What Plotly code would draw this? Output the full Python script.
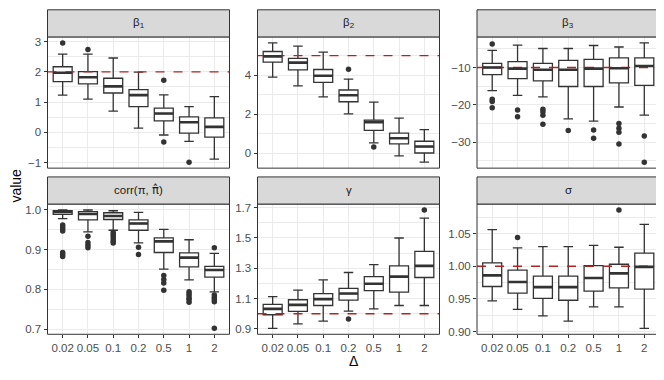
import plotly.graph_objects as go

# x categories (Delta)
deltas = ["0.02", "0.05", "0.1", "0.2", "0.5", "1", "2"]

# beta_1
b1_low = [1.23, 1.10, 0.70, 0.14, -0.09, -0.30, -0.89]
b1_q1 = [1.68, 1.60, 1.30, 0.85, 0.38, -0.03, -0.16]
b1_med = [1.97, 1.82, 1.52, 1.23, 0.62, 0.33, 0.18]
b1_q3 = [2.17, 2.01, 1.79, 1.41, 0.80, 0.51, 0.48]
b1_up = [2.59, 2.59, 2.46, 1.99, 1.24, 0.85, 1.18]
b1_out_x = ["0.02", "0.05", "0.5", "0.5", "1"]
b1_out_y = [2.96, 2.74, 1.72, -0.32, -0.99]

# beta_2
b2_low = [3.90, 3.45, 2.89, 2.02, 0.54, -0.13, -0.45]
b2_q1 = [4.67, 4.27, 3.63, 2.64, 1.18, 0.49, 0.02]
b2_med = [4.96, 4.64, 3.97, 2.97, 1.60, 0.77, 0.35]
b2_q3 = [5.21, 4.86, 4.29, 3.24, 1.70, 1.04, 0.62]
b2_up = [5.65, 5.48, 5.18, 3.80, 2.62, 1.80, 1.21]
b2_out_x = ["0.2", "0.5"]
b2_out_y = [4.30, 0.32]

# beta_3
b3_low = [-16.2, -17.5, -17.9, -23.8, -24.4, -20.6, -22.8]
b3_q1 = [-11.9, -13.0, -13.6, -15.1, -15.1, -14.1, -14.8]
b3_med = [-10.0, -10.3, -10.6, -10.6, -10.3, -10.2, -9.6]
b3_q3 = [-8.9, -8.4, -8.9, -8.1, -7.8, -7.4, -7.4]
b3_up = [-5.4, -4.0, -4.9, -4.9, -4.1, -4.5, -3.4]
b3_out_x = ["0.02", "0.02", "0.02", "0.02", "0.05", "0.05",
            "0.1", "0.1", "0.1", "0.1", "0.2", "0.5", "0.5",
            "1", "1", "1", "1", "2", "2"]
b3_out_y = [-3.7, -18.5, -19.1, -20.8, -21.4, -23.2,
            -21.2, -21.9, -22.8, -25.2, -26.9, -26.8, -29.0,
            -25.0, -26.3, -27.4, -30.5, -28.4, -35.4]

# corr(pi, pi-hat)
cr_low = [0.978, 0.945, 0.949, 0.917, 0.851, 0.824, 0.794]
cr_q1 = [0.989, 0.975, 0.976, 0.949, 0.893, 0.857, 0.831]
cr_med = [0.995, 0.990, 0.985, 0.966, 0.921, 0.880, 0.849]
cr_q3 = [0.998, 0.996, 0.993, 0.975, 0.930, 0.892, 0.858]
cr_up = [1.000, 1.000, 0.998, 0.994, 0.951, 0.925, 0.891]
cr_out_x = ["0.02"] * 7 + ["0.05"] * 4 + ["0.1"] * 6 + ["0.2"] * 2 + \
           ["0.5"] * 4 + ["1"] * 6 + ["2"] * 6
cr_out_y = [0.962, 0.957, 0.952, 0.947, 0.893, 0.888, 0.883,
            0.934, 0.918, 0.911, 0.905,
            0.943, 0.938, 0.933, 0.927, 0.921, 0.917,
            0.906, 0.888,
            0.835, 0.825, 0.816, 0.798,
            0.794, 0.789, 0.784, 0.778, 0.774, 0.768,
            0.905, 0.786, 0.780, 0.774, 0.769, 0.702]

# gamma
g_low = [0.903, 0.933, 0.951, 1.017, 1.032, 1.054, 1.054]
g_q1 = [0.993, 1.015, 1.054, 1.090, 1.152, 1.142, 1.239]
g_med = [1.032, 1.058, 1.096, 1.133, 1.198, 1.245, 1.316]
g_q3 = [1.062, 1.092, 1.133, 1.167, 1.245, 1.316, 1.412]
g_up = [1.113, 1.156, 1.223, 1.272, 1.324, 1.500, 1.631]
g_out_x = ["0.2", "2"]
g_out_y = [0.965, 1.685]

# sigma
s_low = [0.947, 0.934, 0.924, 0.916, 0.938, 0.938, 0.905]
s_q1 = [0.969, 0.959, 0.951, 0.948, 0.962, 0.967, 0.965]
s_med = [0.986, 0.976, 0.968, 0.968, 0.982, 0.989, 0.999]
s_q3 = [1.005, 0.994, 0.985, 0.985, 1.001, 1.003, 1.020]
s_up = [1.056, 1.028, 1.030, 1.030, 1.032, 1.029, 1.064]
s_out_x = ["0.05", "1"]
s_out_y = [1.044, 1.086]

# title, stats..., true value, tick0, dtick, format, minor dtick
panels = [
    ("β<sub>1</sub>", b1_low, b1_q1, b1_med, b1_q3, b1_up, b1_out_x, b1_out_y, 2, 0, 1, "", 0.5),
    ("β<sub>2</sub>", b2_low, b2_q1, b2_med, b2_q3, b2_up, b2_out_x, b2_out_y, 5, 0, 2, "", 1),
    ("β<sub>3</sub>", b3_low, b3_q1, b3_med, b3_q3, b3_up, b3_out_x, b3_out_y, -10, 0, 10, "", 5),
    ("corr(π, <span style='font-family:DejaVu Sans'>π\u0302</span>)",
     cr_low, cr_q1, cr_med, cr_q3, cr_up, cr_out_x, cr_out_y, None, 0, 0.1, ".1f", 0.05),
    ("γ", g_low, g_q1, g_med, g_q3, g_up, g_out_x, g_out_y, 1, 0.1, 0.2, ".1f", 0.1),
    ("σ", s_low, s_q1, s_med, s_q3, s_up, s_out_x, s_out_y, 1, 0, 0.05, ".2f", 0.025),
]

# page body has an 8px margin, so the figure is drawn 8px in from the window corner
OFF = 8
W, H = 664 - OFF, 380 - OFF
cols = [(47.5, 229.5), (257.5, 439.5), (477, 659.5)]
rows = [(35.3, 168.3), (204.7, 336.7)]
strip_h = 27.5
dark = "#333333"
grid = "#EBEBEB"
font = "Liberation Sans, Arial, sans-serif"
pos = list(range(1, len(deltas) + 1))
xr = [0.4, len(deltas) + 0.6]


def fx(px):
    return (px - OFF) / W


def fy(py):
    return 1 - (py - OFF) / H


fig = go.Figure()
shapes = []
annotations = []

for k, (title, low, q1, med, q3, up, ox, oy, truth, t0, dtick, fmt, mdt) in enumerate(panels):
    r, c = divmod(k, 3)
    sfx = "" if k == 0 else str(k + 1)
    xa, ya = "x" + sfx, "y" + sfx

    # dashed true value, drawn first so boxes cover it
    if truth is not None:
        fig.add_trace(go.Scatter(x=xr, y=[truth, truth], mode="lines",
                                 line=dict(color="#B22222", width=1.4, dash="dash"),
                                 xaxis=xa, yaxis=ya, showlegend=False, hoverinfo="skip"))

    fig.add_trace(go.Box(
        x=pos, q1=q1, median=med, q3=q3, lowerfence=low, upperfence=up,
        width=0.75, fillcolor="white", line=dict(color=dark, width=1.3),
        boxpoints=False, xaxis=xa, yaxis=ya, showlegend=False, hoverinfo="skip"))

    # thicker median line, like ggplot
    mx, my = [], []
    for p, m in zip(pos, med):
        mx += [p - 0.375, p + 0.375, None]
        my += [m, m, None]
    fig.add_trace(go.Scatter(x=mx, y=my, mode="lines", line=dict(color=dark, width=2.6),
                             xaxis=xa, yaxis=ya, showlegend=False, hoverinfo="skip"))

    fig.add_trace(go.Scatter(
        x=[deltas.index(d) + 1 for d in ox], y=oy, mode="markers",
        marker=dict(color=dark, size=5.5), xaxis=xa, yaxis=ya,
        showlegend=False, hoverinfo="skip"))

    # y range with ggplot style 5% expansion
    vals = low + up + oy
    lo, hi = min(vals), max(vals)
    pad = 0.05 * (hi - lo)

    x0, x1 = cols[c]
    y0, y1 = rows[r]
    xdom = [fx(x0), fx(x1)]
    ydom = [fy(y1), fy(y0)]

    fig.layout["xaxis" + sfx] = dict(
        domain=xdom, anchor=ya, range=xr, tickvals=pos,
        ticktext=deltas, showticklabels=(r == 1), ticks="outside" if r == 1 else "",
        ticklen=3, tickcolor=dark, showgrid=True, gridcolor=grid, gridwidth=1,
        zeroline=False, showline=False,
        tickfont=dict(family=font, size=11.5, color="#4D4D4D"))
    fig.layout["yaxis" + sfx] = dict(
        domain=ydom, anchor=xa, range=[lo - pad, hi + pad],
        tick0=t0, dtick=dtick, tickformat=fmt, ticks="outside", ticklen=3,
        tickcolor=dark, showgrid=True, gridcolor=grid, gridwidth=1,
        minor=dict(dtick=mdt, tick0=0, showgrid=True, gridcolor=grid, gridwidth=0.5),
        zeroline=False, showline=False,
        tickfont=dict(family=font, size=11.5, color="#4D4D4D"))

    # panel border
    shapes.append(dict(type="rect", xref="paper", yref="paper",
                       x0=xdom[0], x1=xdom[1], y0=ydom[0], y1=ydom[1],
                       line=dict(color=dark, width=1), layer="above"))
    # strip
    sy0 = fy(y0)
    sy1 = fy(y0 - strip_h)
    shapes.append(dict(type="rect", xref="paper", yref="paper",
                       x0=xdom[0], x1=xdom[1], y0=sy0, y1=sy1,
                       line=dict(color=dark, width=1), fillcolor="#D9D9D9"))
    annotations.append(dict(text=title, xref="paper", yref="paper",
                            x=(xdom[0] + xdom[1]) / 2, y=(sy0 + sy1) / 2,
                            showarrow=False, xanchor="center", yanchor="middle",
                            font=dict(family=font, size=11.5, color="#1A1A1A")))

annotations.append(dict(text="value", xref="paper", yref="paper", x=fx(16),
                        y=fy(186), textangle=-90, showarrow=False,
                        xanchor="center", yanchor="middle",
                        font=dict(family=font, size=14, color="black")))
annotations.append(dict(text="Δ", xref="paper", yref="paper", x=fx(353),
                        y=fy(364), showarrow=False,
                        xanchor="center", yanchor="middle",
                        font=dict(family=font, size=14, color="black")))

fig.update_layout(
    width=W, height=H, margin=dict(l=0, r=0, t=0, b=0),
    paper_bgcolor="white", plot_bgcolor="white",
    shapes=shapes, annotations=annotations, showlegend=False,
)

fig.write_html("out.html")
